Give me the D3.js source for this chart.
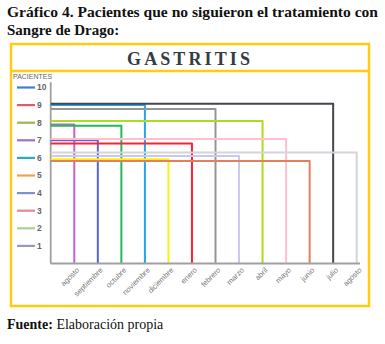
<!DOCTYPE html>
<html>
<head>
<meta charset="utf-8">
<script src="https://cdn.jsdelivr.net/npm/d3@7"></script>
<style>
  html, body { margin: 0; padding: 0; background: #fff; }
  svg { display: block; }
</style>
</head>
<body>
<svg id="chart" width="385" height="344"></svg>
<script>
// Months on the x axis (agosto to agosto)
const months = ["agosto", "septiembre", "octubre", "noviembre", "diciembre", "enero",
  "febrero", "marzo", "abril", "mayo", "junio", "julio", "agosto "];
// Patients per month
const patients = [7.9, 7.0, 7.83, 9.01, 5.92, 6.82, 8.78, 6.11, 8.1, 7.07, 5.82, 9.08, 6.3];
const monthColors = ["#cc5fcc", "#5566dd", "#22bb5c", "#22a8e8", "#ffee11", "#ff2233",
  "#959595", "#c8c8f2", "#aadd22", "#ffbfcf", "#e0805e", "#45454d", "#d4d4dc"];

// Level keys drawn down the left side
const levels = [10, 9, 8, 7, 6, 5, 4, 3, 2, 1];
const levelColors = ["#3f7fd0", "#e05a6a", "#98b850", "#a070c8", "#30a8c0",
  "#f0a050", "#8090c8", "#e88890", "#a8d490", "#9898c8"];

const svg = d3.select("#chart");

// Heading
const head = svg.append("g").attr("font-family", "Liberation Serif, Times New Roman, serif")
  .attr("font-weight", "bold").attr("font-size", 15).attr("fill", "#111");
head.append("text").attr("x", 7).attr("y", 17)
  .attr("textLength", 371).attr("lengthAdjust", "spacingAndGlyphs")
  .text("Gráfico 4. Pacientes que no siguieron el tratamiento con");
head.append("text").attr("x", 7).attr("y", 35).text("Sangre de Drago:");

// Frame
const gold = "#ffcc11";
svg.append("rect").attr("x", 11).attr("y", 44).attr("width", 358).attr("height", 262)
  .attr("fill", "none").attr("stroke", gold).attr("stroke-width", 2.5);
svg.append("line").attr("x1", 11).attr("x2", 369).attr("y1", 71).attr("y2", 71)
  .attr("stroke", gold).attr("stroke-width", 2.5);

svg.append("text").attr("x", 188.5).attr("y", 65).attr("text-anchor", "middle")
  .attr("font-family", "Liberation Serif, serif").attr("font-weight", "bold")
  .attr("font-size", 18).attr("fill", "#353b42")
  .attr("textLength", 123).attr("lengthAdjust", "spacing")
  .text("GASTRITIS");

// Scales
const x0 = 50.7;
const x = d3.scalePoint().domain(months).range([74.3, 356.7]);
const y = d3.scaleLinear().domain([0, 10]).range([263.5, 87.5]);

// Axis lines
svg.append("line").attr("x1", x0).attr("x2", x0).attr("y1", y(10.3)).attr("y2", y(0))
  .attr("stroke", "#a0a0a0").attr("stroke-width", 1.8);

// Step marks: horizontal run from the axis, then drop to the baseline
const plot = svg.append("g").attr("fill", "none").attr("stroke-width", 2)
  .attr("stroke-linejoin", "round");
plot.selectAll("path").data(months).join("path")
  .attr("stroke", (d, i) => monthColors[i])
  .attr("d", (d, i) => `M${x0},${y(patients[i])}H${x(d)}V${y(0)}`);

svg.append("line").attr("x1", x0).attr("x2", 360).attr("y1", y(0)).attr("y2", y(0))
  .attr("stroke", "#a0a0a0").attr("stroke-width", 1.8);

// Month labels
const xAxis = svg.append("g").attr("transform", `translate(0,${y(0)})`)
  .call(d3.axisBottom(x).tickSize(0).tickPadding(4).tickFormat(d => d.trim()));
xAxis.select(".domain").remove();
xAxis.selectAll("text")
  .attr("font-family", "Liberation Sans, Arial, sans-serif").attr("font-size", 7.5)
  .attr("fill", "#777").attr("text-anchor", "end")
  .attr("dx", "-0.2em").attr("dy", "0.6em")
  .attr("transform", "rotate(-45)");

// Left key
svg.append("text").attr("x", 13).attr("y", 79)
  .attr("font-family", "Liberation Sans, Arial, sans-serif").attr("font-size", 7)
  .attr("fill", "#666").text("PACIENTES");
const key = svg.append("g").selectAll("g").data(levels).join("g")
  .attr("transform", d => `translate(0,${y(d)})`);
key.append("line").attr("x1", 17).attr("x2", 35)
  .attr("stroke", (d, i) => levelColors[i]).attr("stroke-width", 2.2);
key.append("text").attr("x", 37).attr("dy", "0.35em")
  .attr("font-family", "Liberation Sans, Arial, sans-serif").attr("font-size", 8.5)
  .attr("font-weight", "bold").attr("fill", "#666").text(d => d);

// Source note
const src = svg.append("text").attr("x", 7).attr("y", 329)
  .attr("font-family", "Liberation Serif, Times New Roman, serif").attr("font-size", 14)
  .attr("fill", "#111");
src.append("tspan").attr("font-weight", "bold").text("Fuente:");
src.append("tspan").text(" Elaboración propia");
</script>
</body>
</html>
